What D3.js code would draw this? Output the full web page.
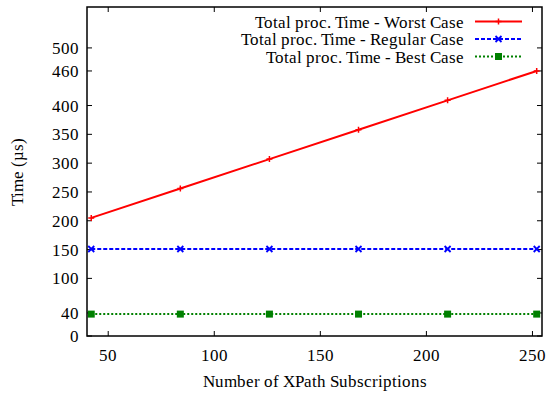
<!DOCTYPE html>
<html><head><meta charset="utf-8">
<script src="https://cdnjs.cloudflare.com/ajax/libs/d3/7.8.5/d3.min.js"></script>
<style>
@font-face { font-family: "ChartSerif"; src: local("Liberation Serif"), local("LiberationSerif"), local("Liberation Serif Regular"); }
</style>
</head><body style="margin:0"><svg id="c" width="547" height="395" style="display:block"></svg>
<script>
const subscriptions = [42, 84, 126, 168, 210, 252];
const worstCase = [205, 256, 307, 358, 409, 460];
const regularCase = [151, 151, 151, 151, 151, 151];
const bestCase = [38, 38, 38, 38, 38, 38];
const yTicks = [0, 40, 100, 150, 200, 250, 300, 350, 400, 460, 500];
const xTicks = [50, 100, 150, 200, 250];
const seriesNames = ["Total proc. Time - Worst Case", "Total proc. Time - Regular Case", "Total proc. Time - Best Case"];

const svg = d3.select("#c");
const m = {l: 87, r: 542, t: 7, b: 336};
const x = d3.scaleLinear().domain([40, 254.5]).range([m.l, m.r]);
const y = d3.scaleLinear().domain([0, 571]).range([m.b, m.t]);
const fs = 17;
function txt(sel) {
  return sel.append("text").attr("font-size", fs)
    .attr("font-family", "ChartSerif, 'Liberation Serif', Tinos, 'Times New Roman', serif")
    .style("font-family", "ChartSerif, 'Liberation Serif', Tinos, 'Times New Roman', serif");
}

const tl = 5;
const g = svg.append("g");
yTicks.forEach(v => {
  g.append("line").attr("x1", m.l).attr("x2", m.l + tl).attr("y1", y(v)).attr("y2", y(v)).attr("stroke", "#000");
  g.append("line").attr("x1", m.r).attr("x2", m.r - tl).attr("y1", y(v)).attr("y2", y(v)).attr("stroke", "#000");
  txt(g).attr("x", m.l - 8).attr("y", y(v) + 6).attr("text-anchor", "end").text(v);
});
xTicks.forEach(v => {
  g.append("line").attr("x1", x(v)).attr("x2", x(v)).attr("y1", m.b).attr("y2", m.b - tl).attr("stroke", "#000");
  g.append("line").attr("x1", x(v)).attr("x2", x(v)).attr("y1", m.t).attr("y2", m.t + tl).attr("stroke", "#000");
  txt(g).attr("x", x(v)).attr("y", m.b + 25).attr("text-anchor", "middle").text(v);
});

txt(svg).attr("x", (m.l + m.r) / 2).attr("y", 387).attr("text-anchor", "middle").text("Number of XPath Subscriptions");
txt(svg).attr("transform", `translate(23,${(m.t + m.b) / 2}) rotate(-90)`).attr("text-anchor", "middle").text("Time (µs)");

const series = [
  {name: seriesNames[0], vals: worstCase, color: "#ff0000", dash: null, marker: "plus"},
  {name: seriesNames[1], vals: regularCase, color: "#0000ff", dash: "4,2", marker: "cross"},
  {name: seriesNames[2], vals: bestCase, color: "#008000", dash: "2,2", marker: "square"}
];
const line = d3.line().x(d => x(d[0])).y(d => y(d[1]));
function marker(sel, cx, cy, s) {
  if (s.marker === "plus") {
    sel.append("path").attr("d", `M${cx-3},${cy}H${cx+3}M${cx},${cy-3}V${cy+3}`).attr("stroke", s.color).attr("stroke-width", 1.5);
  } else if (s.marker === "cross") {
    sel.append("path").attr("d", `M${cx-3},${cy-3}L${cx+3},${cy+3}M${cx-3},${cy+3}L${cx+3},${cy-3}`).attr("stroke", s.color).attr("stroke-width", 1.8);
  } else {
    sel.append("rect").attr("x", cx - 3.5).attr("y", cy - 3.5).attr("width", 7).attr("height", 7).attr("fill", s.color);
  }
}
series.forEach(s => {
  const pts = subscriptions.map((v, i) => [v, s.vals[i]]);
  svg.append("path").attr("d", line(pts)).attr("fill", "none").attr("stroke", s.color).attr("stroke-width", 2)
    .attr("stroke-dasharray", s.dash);
  pts.forEach(p => marker(svg, x(p[0]), y(p[1]), s));
});

series.forEach((s, i) => {
  const ly = 21.5 + i * 17.5;
  txt(svg).attr("x", 464).attr("y", ly + 6).attr("text-anchor", "end").text(s.name);
  svg.append("line").attr("x1", 475).attr("x2", 522).attr("y1", ly).attr("y2", ly).attr("stroke", s.color).attr("stroke-width", 2).attr("stroke-dasharray", s.dash);
  marker(svg, 498.5, ly, s);
});

svg.append("rect").attr("x", m.l).attr("y", m.t).attr("width", m.r - m.l).attr("height", m.b - m.t).attr("fill", "none").attr("stroke", "#000").attr("stroke-width", 1.5);
</script></body></html>
